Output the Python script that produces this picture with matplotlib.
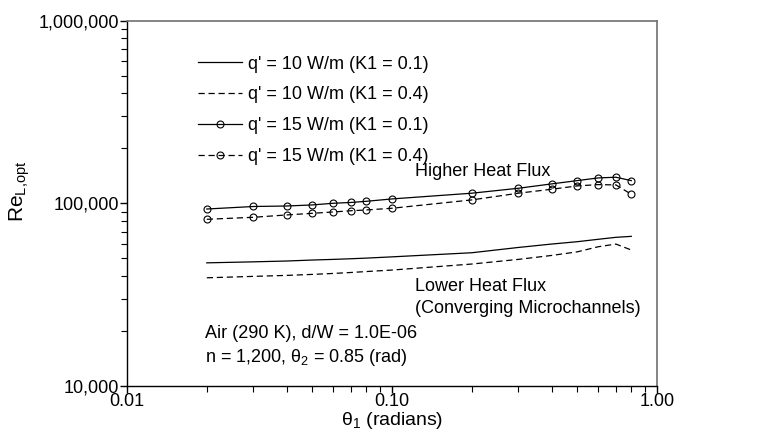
import matplotlib.pyplot as plt
from matplotlib.ticker import FixedLocator, FuncFormatter, LogLocator, NullFormatter

plt.rcParams['font.family'] = ['Liberation Sans', 'DejaVu Sans']
plt.rcParams['mathtext.default'] = 'regular'

# channel angle theta_1 (radians)
theta1 = [0.02, 0.03, 0.04, 0.05, 0.06, 0.07, 0.08, 0.1,
          0.2, 0.3, 0.4, 0.5, 0.6, 0.7, 0.8]

# optimal Reynolds number, q' = 10 W/m
re_q10_k01 = [47200, 47800, 48300, 48900, 49300, 49700, 50100, 50900,
              53600, 57300, 59800, 61600, 63500, 65100, 65900]
re_q10_k04 = [39100, 39800, 40300, 40800, 41300, 41800, 42300, 43100,
              46500, 49300, 51800, 54200, 57800, 59800, 55500]

# optimal Reynolds number, q' = 15 W/m
re_q15_k01 = [93000, 96000, 96600, 97900, 100000, 101000, 102500, 105600,
              113500, 120800, 127600, 133000, 137600, 138800, 133000]
re_q15_k04 = [81700, 83800, 86300, 88100, 89600, 91000, 91900, 93900,
              104300, 113500, 119300, 124400, 126500, 126000, 112000]

labels = ["q' = 10 W/m (K1 = 0.1)", "q' = 10 W/m (K1 = 0.4)",
          "q' = 15 W/m (K1 = 0.1)", "q' = 15 W/m (K1 = 0.4)"]

fig = plt.figure(figsize=(7.68, 4.41), dpi=100)
ax = fig.add_axes([0.1654, 0.1247, 0.690, 0.8288])

lw = 0.9
dash = (0, (5, 3))
ax.plot(theta1, re_q10_k01, color='black', lw=lw, label=labels[0])
ax.plot(theta1, re_q10_k04, color='black', lw=lw, linestyle=dash, label=labels[1])
ax.plot(theta1, re_q15_k01, color='black', lw=lw, marker='o', ms=5,
        mfc='none', mew=0.8, label=labels[2])
ax.plot(theta1, re_q15_k04, color='black', lw=lw, linestyle=dash, marker='o',
        ms=5, mfc='none', mew=0.8, label=labels[3])

ax.set_xscale('log')
ax.set_yscale('log')
ax.set_xlim(0.01, 1.0)
ax.set_ylim(1e4, 1e6)

ax.xaxis.set_major_locator(FixedLocator([0.01, 0.1, 1.0]))
ax.xaxis.set_major_formatter(FuncFormatter(lambda v, p: f"{v:.2f}"))
ax.xaxis.set_minor_locator(LogLocator(base=10, subs=range(2, 10)))
ax.xaxis.set_minor_formatter(NullFormatter())
ax.yaxis.set_major_locator(FixedLocator([1e4, 1e5, 1e6]))
ax.yaxis.set_major_formatter(FuncFormatter(lambda v, p: f"{v:,.0f}"))
ax.yaxis.set_minor_locator(LogLocator(base=10, subs=range(2, 10)))
ax.yaxis.set_minor_formatter(NullFormatter())

ax.tick_params(which='major', direction='out', length=5, width=1, labelsize=13, pad=1,
               colors='black')
ax.tick_params(which='minor', direction='out', length=4, width=0.8)
ax.tick_params(axis='x', pad=0)

for s in ['left', 'bottom']:
    ax.spines[s].set_color('black')
    ax.spines[s].set_linewidth(1.0)
for s in ['top', 'right']:
    ax.spines[s].set_color('#707070')
    ax.spines[s].set_linewidth(1.2)

ax.set_xlabel(r"θ$_1$ (radians)", fontsize=14, labelpad=0)
ax.set_ylabel(r"Re$_{L{,}opt}$", fontsize=15)
ax.yaxis.set_label_coords(-0.179, 0.534)

ax.legend(loc='upper left', bbox_to_anchor=(0.258, 0.874), bbox_transform=fig.transFigure,
          frameon=False, fontsize=13, handlelength=2.45, handletextpad=0.3,
          labelspacing=0.77, borderpad=0, borderaxespad=0, numpoints=1)

ax.text(0.543, 0.586, "Higher Heat Flux", transform=ax.transAxes,
        fontsize=13, va='center', ha='left')
ax.text(0.543, 0.271, "Lower Heat Flux", transform=ax.transAxes,
        fontsize=13, va='center', ha='left')
ax.text(0.543, 0.213, "(Converging Microchannels)", transform=ax.transAxes,
        fontsize=13, va='center', ha='left')
ax.text(0.148, 0.145, "Air (290 K), d/W = 1.0E-06", transform=ax.transAxes,
        fontsize=13, va='center', ha='left')
ax.text(0.148, 0.079, r"n = 1,200, θ$_2$ = 0.85 (rad)", transform=ax.transAxes,
        fontsize=13, va='center', ha='left')

fig.savefig('out.png', dpi=100)
